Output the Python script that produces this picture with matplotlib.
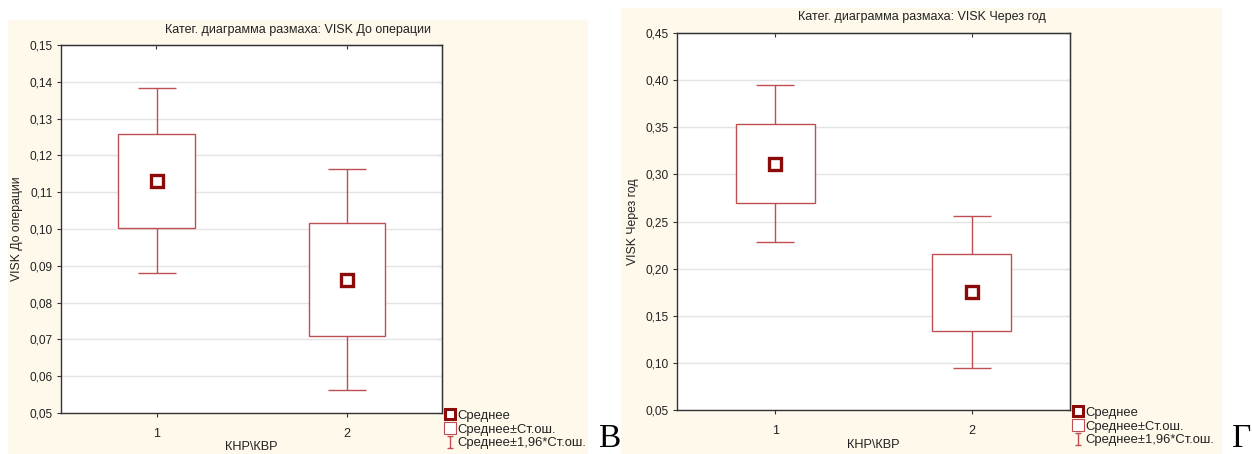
import numpy as np
import matplotlib.pyplot as plt
from matplotlib.patches import Rectangle
from matplotlib.lines import Line2D
from matplotlib.path import Path

plt.rcParams['font.family'] = ['Liberation Sans', 'DejaVu Sans']

groups = [1, 2]
group_labels = ['1', '2']

# VISK before surgery: mean and standard error per group
mean_before = [0.1131, 0.0862]
se_before = [0.0128, 0.0153]

# VISK one year later
mean_after = [0.3115, 0.1749]
se_after = [0.0423, 0.0411]

box_col = '#bd4f52'
mean_col = '#8b0a0a'
panel_col = '#fff9ec'
txt_col = '#222222'

fig = plt.figure(figsize=(12.52, 4.54), dpi=100)

# cream panel backgrounds
fig.patches.append(Rectangle((0.0064, 0.0), 0.4632, 0.956, transform=fig.transFigure,
                             facecolor=panel_col, edgecolor='none', zorder=-10))
fig.patches.append(Rectangle((0.496, 0.0), 0.480, 0.9824, transform=fig.transFigure,
                             facecolor=panel_col, edgecolor='none', zorder=-10))

# "I" shaped symbol for the whisker legend entry
whisk_path = Path([(-0.5, 1), (0.5, 1), (0, 1), (0, -1), (-0.5, -1), (0.5, -1)],
                  [Path.MOVETO, Path.LINETO, Path.MOVETO, Path.LINETO,
                   Path.MOVETO, Path.LINETO])


def catbox(ax, mean, se, ylim, yticks, ylabel):
    mean = np.array(mean)
    se = np.array(se)
    ax.errorbar(groups, mean, yerr=1.96 * se, fmt='none', ecolor=box_col,
                elinewidth=1, capsize=13.5, capthick=1, zorder=2)
    ax.bar(groups, 2 * se, bottom=mean - se, width=0.4, color='white',
           edgecolor=box_col, linewidth=1, zorder=3)
    ax.plot(groups, mean, 's', ms=9, mfc='white', mec=mean_col, mew=2.4, zorder=4)
    ax.set_xlim(0.5, 2.5)
    ax.set_ylim(*ylim)
    ax.set_yticks(yticks)
    ax.set_yticklabels([('%.2f' % v).replace('.', ',') for v in yticks])
    ax.set_xticks(groups)
    ax.set_xticklabels(group_labels)
    ax.grid(axis='y', color='#e4e4e4', linewidth=1, zorder=0)
    ax.set_axisbelow(True)
    ax.tick_params(direction='out', length=3, labelsize=8.6, colors='#333333',
                   labelcolor=txt_col, pad=3)
    ax.tick_params(axis='x', pad=8, labelsize=9)
    for s in ax.spines.values():
        s.set_color('#333333')
        s.set_linewidth(1)
    # inward ticks on the opposite spines
    sy = ax.secondary_yaxis('right')
    sy.set_yticks(yticks)
    sy.tick_params(direction='in', length=3, labelright=False, colors='#333333')
    sx = ax.secondary_xaxis('top')
    sx.set_xticks(groups)
    sx.tick_params(direction='in', length=3, labeltop=False, colors='#333333')
    ax.set_ylabel(ylabel, fontsize=8.8, color=txt_col, labelpad=5)

    handles = [
        Line2D([], [], ls='none', marker='s', ms=7.5, mfc='white', mec=mean_col, mew=2.2),
        Line2D([], [], ls='none', marker='s', ms=9, mfc='white', mec=box_col, mew=0.8),
        Line2D([], [], ls='none', marker=whisk_path, ms=9, mfc='none', mec=box_col, mew=1),
    ]
    labels = ['Среднее', 'Среднее±Ст.ош.', 'Среднее±1,96*Ст.ош.']
    ax.legend(handles, labels, loc='upper left', bbox_to_anchor=(1.006, 0.012),
              frameon=False, fontsize=9.4, handlelength=0.7, handletextpad=0.2,
              labelspacing=0.12, borderpad=0, borderaxespad=0.1,
              labelcolor=txt_col)


ax1 = fig.add_axes([0.049, 0.0903, 0.304, 0.8106])
catbox(ax1, mean_before, se_before, (0.05, 0.15), np.arange(0.05, 0.1501, 0.01),
       'VISK До операции')
ax2 = fig.add_axes([0.5407, 0.0969, 0.3139, 0.8304])
catbox(ax2, mean_after, se_after, (0.05, 0.45), np.arange(0.05, 0.4501, 0.05),
       'VISK Через год')

fig.text(0.238, 0.934, 'Катег. диаграмма размаха: VISK До операции',
         ha='center', va='center', fontsize=9, color=txt_col)
fig.text(0.736, 0.963, 'Катег. диаграмма размаха: VISK Через год',
         ha='center', va='center', fontsize=9, color=txt_col)
fig.text(0.201, 0.0154, 'КНР\\КВР', ha='center', va='center', fontsize=9.2, color=txt_col)
fig.text(0.6977, 0.02, 'КНР\\КВР', ha='center', va='center', fontsize=9.2, color=txt_col)

fig.text(0.4776, 0.0, 'В', family='Liberation Serif', fontsize=24, va='bottom')
fig.text(0.984, 0.0, 'Г', family='Liberation Serif', fontsize=24, va='bottom')

plt.savefig('out.png', dpi=100)
